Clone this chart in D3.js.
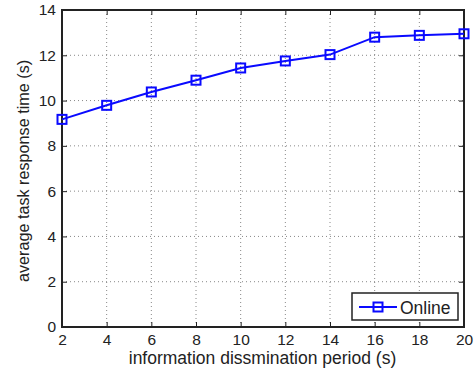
<!DOCTYPE html>
<html><head><meta charset="utf-8">
<script src="https://cdn.jsdelivr.net/npm/d3@7"></script>
<style>body{margin:0;background:#fff}svg{display:block}text{font-family:"Liberation Sans",Arial,Helvetica,sans-serif}</style>
</head><body><svg id="c" width="475" height="368"></svg>
<script>
const periods = [2,4,6,8,10,12,14,16,18,20];
const onlineValues = [9.17,9.79,10.38,10.90,11.44,11.75,12.03,12.80,12.88,12.95];
const xTicks = [2,4,6,8,10,12,14,16,18,20];
const yTicks = [0,2,4,6,8,10,12,14];
const seriesName = "Online";
const xLabel = "information dissmination period (s)";
const yLabel = "average task response time (s)";

const svg = d3.select("#c");
const L=62,R=464,T=10,B=327;
const x = d3.scaleLinear().domain([2,20]).range([L,R]);
const y = d3.scaleLinear().domain([0,14]).range([B,T]);
const blue = "#0a0aff";

// grid
const g = svg.append("g");
g.selectAll(".gx").data(xTicks.slice(1,-1)).join("line")
 .attr("x1",d=>x(d)).attr("x2",d=>x(d)).attr("y1",T).attr("y2",B)
 .attr("stroke","#888").attr("stroke-width",1).attr("stroke-dasharray","1,3");
g.selectAll(".gy").data(yTicks.slice(1,-1)).join("line")
 .attr("y1",d=>y(d)).attr("y2",d=>y(d)).attr("x1",L).attr("x2",R)
 .attr("stroke","#888").attr("stroke-width",1).attr("stroke-dasharray","1,3");

// axes
const ax = d3.axisBottom(x).tickValues(xTicks).tickSizeInner(-5).tickSizeOuter(0).tickPadding(7);
const ay = d3.axisLeft(y).tickValues(yTicks).tickSizeInner(-5).tickSizeOuter(0).tickPadding(6);
const axT = d3.axisTop(x).tickValues(xTicks).tickSizeInner(-5).tickSizeOuter(0).tickFormat("");
const ayR = d3.axisRight(y).tickValues(yTicks).tickSizeInner(-5).tickSizeOuter(0).tickFormat("");
function style(sel){
  sel.selectAll("path").remove();
  sel.selectAll("line").attr("stroke","#222").attr("stroke-width",1);
  sel.selectAll("text").attr("font-size",15.5).attr("fill","#222").attr("font-family","Liberation Sans, Arial, sans-serif");
}
svg.append("g").attr("transform",`translate(0,${B})`).call(ax).call(style);
svg.append("g").attr("transform",`translate(${L},0)`).call(ay).call(style);
svg.append("g").attr("transform",`translate(0,${T})`).call(axT).call(style);
svg.append("g").attr("transform",`translate(${R},0)`).call(ayR).call(style);
svg.append("rect").attr("x",L).attr("y",T).attr("width",R-L).attr("height",B-T)
 .attr("fill","none").attr("stroke","#222").attr("stroke-width",2);

// labels
svg.append("text").attr("x",262.5).attr("y",364).attr("text-anchor","middle")
 .attr("font-size",17.5).attr("fill","#222").text(xLabel);
svg.append("text").attr("transform",`translate(28.5,171) rotate(-90)`).attr("text-anchor","middle")
 .attr("font-size",16.2).attr("fill","#222").text(yLabel);

// series
const data = periods.map((p,i)=>({p,v:onlineValues[i]}));
svg.append("path").datum(data).attr("fill","none").attr("stroke",blue).attr("stroke-width",2)
 .attr("d",d3.line().x(d=>x(d.p)).y(d=>y(d.v)));
const ms=9;
svg.selectAll(".m").data(data).join("rect")
 .attr("x",d=>x(d.p)-ms/2).attr("y",d=>y(d.v)-ms/2).attr("width",ms).attr("height",ms)
 .attr("fill","none").attr("stroke",blue).attr("stroke-width",2);

// legend
const lg = svg.append("g");
lg.append("rect").attr("x",352).attr("y",293).attr("width",106).attr("height",27)
 .attr("fill","#fff").attr("stroke","#222").attr("stroke-width",1.5);
lg.append("line").attr("x1",359).attr("x2",397).attr("y1",307).attr("y2",307)
 .attr("stroke",blue).attr("stroke-width",2);
lg.append("rect").attr("x",378-ms/2).attr("y",307-ms/2).attr("width",ms).attr("height",ms)
 .attr("fill","none").attr("stroke",blue).attr("stroke-width",2);
lg.append("text").attr("x",400).attr("y",313.5).attr("font-size",17.5).attr("fill","#222").text(seriesName);
</script></body></html>
